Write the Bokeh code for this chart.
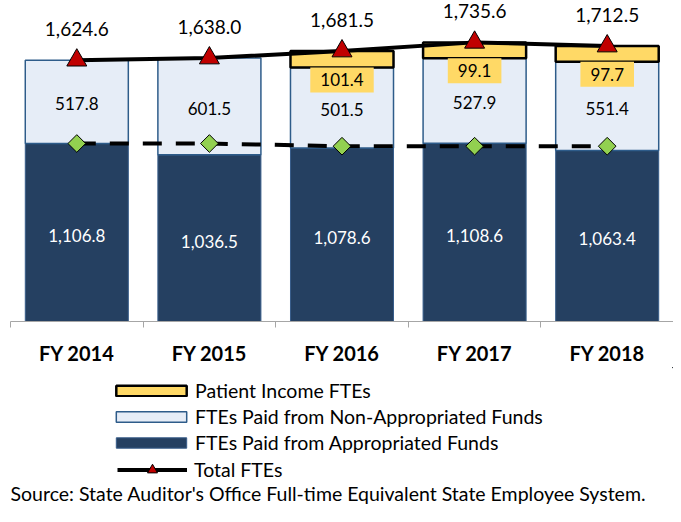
from bokeh.plotting import figure
from bokeh.layouts import column
from bokeh.models import (ColumnDataSource, Range1d, FixedTicker, LabelSet, Legend,
                          LegendItem, Label)
from bokeh.core.properties import value
from bokeh.embed import file_html
from bokeh.resources import INLINE

# ---- data -------------------------------------------------------------
categories = ["FY 2014", "FY 2015", "FY 2016", "FY 2017", "FY 2018"]
appropriated = [1106.8, 1036.5, 1078.6, 1108.6, 1063.4]
non_appropriated = [517.8, 601.5, 501.5, 527.9, 551.4]
patient_income = [0.0, 0.0, 101.4, 99.1, 97.7]
total_ftes = [1624.6, 1638.0, 1681.5, 1735.6, 1712.5]
reference_level = [1106.8, 1106.8, 1090.0, 1090.0, 1090.0]
series_names = ["Patient Income FTEs", "FTEs Paid from Non-Appropriated Funds",
                "FTEs Paid from Appropriated Funds", "Total FTEs"]
source_note = "Source: State Auditor's Office Full-time Equivalent State Employee System."

# ---- styles -----------------------------------------------------------
FONT = "Lato"
NAVY = "#254061"
NAVY_EDGE = "#385D8A"
LIGHT = "#E6EDF7"
LIGHT_EDGE = "#2E5C8A"
YELLOW = "#FFD966"
RED = "#C00000"
GREEN = "#92D050"
AXIS_GRAY = "#A6A6A6"
W = 673
H_CHART = 367
H_KEY = 139

xs = [i + 0.5 for i in range(len(categories))]
non_top = [a + n for a, n in zip(appropriated, non_appropriated)]
tot_top = [nt + pi for nt, pi in zip(non_top, patient_income)]

src = ColumnDataSource(dict(
    x=xs,
    appr=appropriated,
    non=non_appropriated,
    non_top=non_top,
    total=total_ftes,
    ref=reference_level,
    appr_mid=[a / 2 for a in appropriated],
    non_mid=[a + n / 2 for a, n in zip(appropriated, non_appropriated)],
    appr_lbl=[f"{v:,.1f}" for v in appropriated],
    non_lbl=[f"{v:,.1f}" for v in non_appropriated],
    tot_lbl=[f"{v:,.1f}" for v in total_ftes],
))

pat_idx = [i for i, v in enumerate(patient_income) if v > 0]
pat_src = ColumnDataSource(dict(
    x=[xs[i] for i in pat_idx],
    bottom=[non_top[i] for i in pat_idx],
    top=[tot_top[i] for i in pat_idx],
    lbl=[f"{patient_income[i]:,.1f}" for i in pat_idx],
))

bar_w = 0.777
appr_style = dict(fill_color=NAVY, line_color=NAVY_EDGE, line_width=1)
non_style = dict(fill_color=LIGHT, line_color=LIGHT_EDGE, line_width=1.5)
pat_style = dict(fill_color=YELLOW, line_color="black", line_width=2.5)
line_style = dict(line_color="black", line_width=4)
tri_style = dict(marker="triangle", fill_color=RED, line_color="black", line_width=1)


def draw_bars(fig):
    """Stacked bars drawn from the data arrays."""
    r_appr = fig.vbar(x="x", width=bar_w, bottom=0, top="appr", source=src, **appr_style)
    r_non = fig.vbar(x="x", width=bar_w, bottom="appr", top="non_top", source=src,
                     **non_style)
    r_pat = fig.vbar(x="x", width=bar_w, bottom="bottom", top="top", source=pat_src,
                     **pat_style)
    return r_appr, r_non, r_pat


# ---- chart ------------------------------------------------------------
p = figure(width=W, height=H_CHART, x_range=Range1d(0, len(categories)),
           y_range=Range1d(0, 1996), output_backend="svg", toolbar_location=None,
           y_axis_location=None, min_border_left=10, min_border_right=0,
           min_border_top=0, min_border_bottom=H_CHART - 324)
p.xgrid.visible = False
p.ygrid.visible = False
p.outline_line_color = None

draw_bars(p)

p.add_layout(LabelSet(x="x", y="appr_mid", text="appr_lbl", source=src, y_offset=-3,
                      text_align="center", text_baseline="middle",
                      text_font=value(FONT), text_font_size="17px", text_color="white"))
p.add_layout(LabelSet(x="x", y="non_mid", text="non_lbl", source=src, y_offset=-2,
                      text_align="center", text_baseline="middle",
                      text_font=value(FONT), text_font_size="17px", text_color="black"))

p.text(x="x", y="bottom", text="lbl", source=pat_src, anchor="top_center",
       text_align="center", text_baseline="middle",
       text_font=value(FONT), text_font_size="17px", text_color="black",
       background_fill_color=YELLOW, padding=(10, 6))

p.line(x="x", y="ref", source=src, line_color="black", line_width=4, line_dash="19 14")
p.scatter(x="x", y="ref", source=src, marker="square", angle=0.785398, size=12.5,
          fill_color=GREEN, line_color="black", line_width=1)

p.line(x="x", y="total", source=src, **line_style)
p.scatter(x="x", y="total", source=src, size=20, **tri_style)

p.add_layout(LabelSet(x="x", y="total", text="tot_lbl", source=src, y_offset=31,
                      text_align="center", text_baseline="middle",
                      text_font=value(FONT), text_font_size="19px", text_color="black"))

p.xaxis.ticker = FixedTicker(ticks=xs, minor_ticks=list(range(len(categories) + 1)))
p.xaxis.major_label_overrides = {x: c for x, c in zip(xs, categories)}
p.xaxis.axis_line_color = AXIS_GRAY
p.xaxis.major_tick_line_color = None
p.xaxis.major_tick_out = 0
p.xaxis.major_tick_in = 0
p.xaxis.minor_tick_line_color = AXIS_GRAY
p.xaxis.minor_tick_out = 6
p.xaxis.minor_tick_in = 0
p.xaxis.major_label_standoff = 13
p.xaxis.major_label_text_font = FONT
p.xaxis.major_label_text_font_size = "20px"
p.xaxis.major_label_text_font_style = "bold"
p.xaxis.major_label_text_color = "black"

# ---- key (legend + source) --------------------------------------------
# The same series are drawn again here, but both ranges lie away from all data,
# so only their legend keys show.
k = figure(width=W, height=H_KEY, x_range=Range1d(-10, -9),
           y_range=Range1d(-2, -1), output_backend="svg", toolbar_location=None,
           x_axis_location=None, y_axis_location=None, min_border=0,
           min_border_left=0, min_border_right=0, min_border_top=0, min_border_bottom=0)
k.xgrid.visible = False
k.ygrid.visible = False
k.outline_line_color = None

k_appr, k_non, k_pat = draw_bars(k)
k_line = k.line(x="x", y="total", source=src, **line_style)
k_tri = k.scatter(x="x", y="total", source=src, size=10, **tri_style)

common = dict(padding=0, margin=0, border_line_color=None, background_fill_alpha=0,
              label_text_font=FONT, label_text_font_size="19.5px",
              label_text_color="black")
leg_bars = Legend(items=[
    LegendItem(label=series_names[0], renderers=[k_pat]),
    LegendItem(label=series_names[1], renderers=[k_non]),
    LegendItem(label=series_names[2], renderers=[k_appr]),
], location=(97, 52), glyph_width=88, glyph_height=13, label_standoff=0,
    label_height=24, spacing=2, **common)
leg_total = Legend(items=[
    LegendItem(label=series_names[3], renderers=[k_line, k_tri]),
], location=(107, 24), glyph_width=70, glyph_height=25, label_standoff=7,
    label_height=25, **common)
k.add_layout(leg_bars)
k.add_layout(leg_total)

k.add_layout(Label(x=0, y=13, x_units="screen", y_units="screen", text=source_note,
                   text_baseline="middle", text_font=FONT, text_font_size="19.5px",
                   text_color="black"))

open("out.html", "w").write(file_html(column(p, k, spacing=0), INLINE))
